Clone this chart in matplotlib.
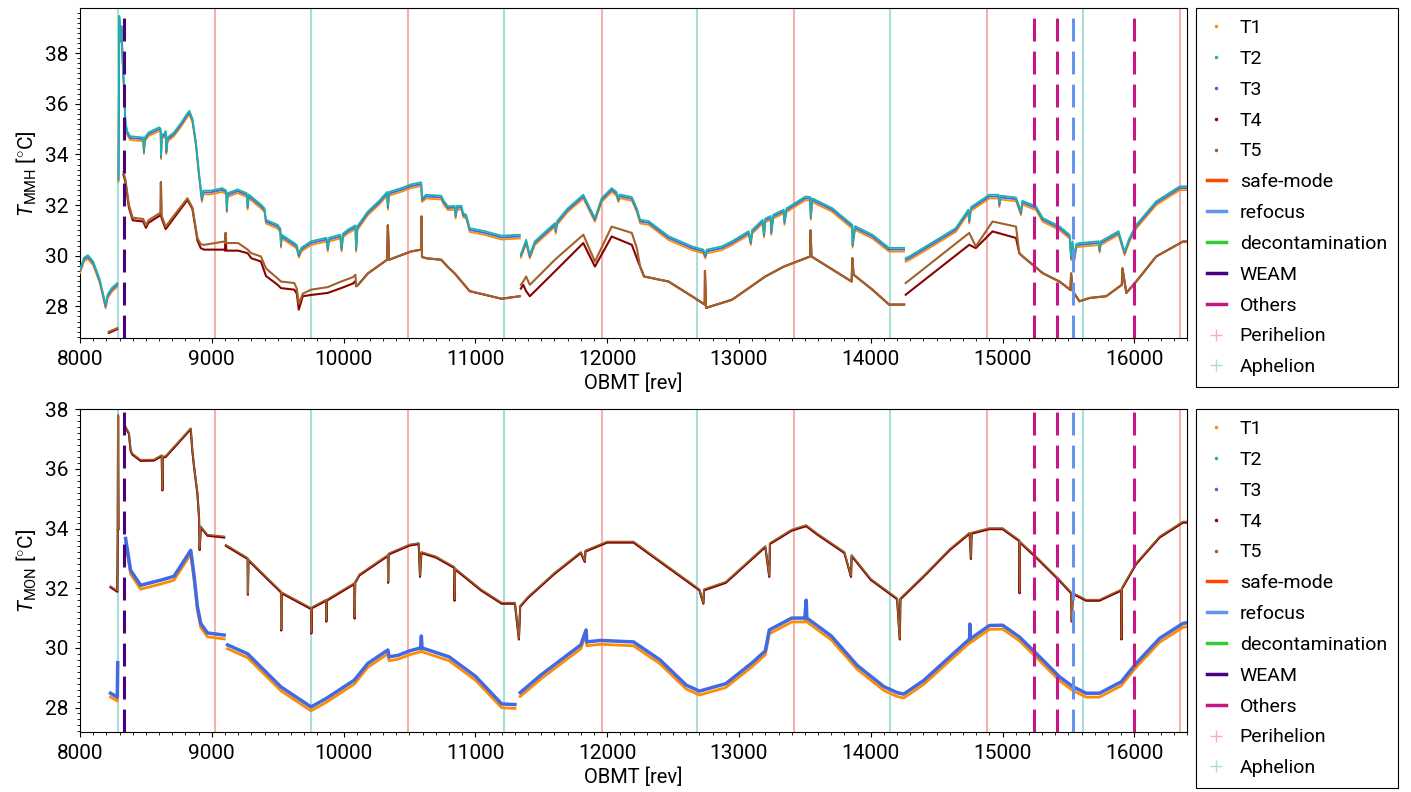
import numpy as np
import matplotlib
matplotlib.use('Agg')
from matplotlib import pyplot as plt
from matplotlib.lines import Line2D
from matplotlib.ticker import MultipleLocator

plt.rcParams['font.family'] = ['Roboto', 'DejaVu Sans']
plt.rcParams['mathtext.fontset'] = 'custom'
plt.rcParams['mathtext.rm'] = 'Roboto'
plt.rcParams['mathtext.it'] = 'Roboto:italic'

nan = np.nan

# events (OBMT rev)
perihelion = [9025, 10490, 11962, 13419, 14884, 16349]
aphelion = [8288, 9753, 11218, 12683, 14148, 15613]
safe_mode = []
refocus = [15537]
decontamination = []
weam = [8334]
others = [15241, 15415, 15999]

# MMH, upper trace group (T1, T2, T3): x, T3
mmh_hi = np.array([
    (8000, 29.4), (8030, 29.85), (8060, 29.95), (8100, 29.7), (8150, 29.0), (8194, 28.0),
    (8210, 28.4), (8240, 28.65), (8283, 28.85), (8287, nan),
    (8292, 33.0), (8298, 39.4), (8305, 38.5), (8315, 39.0), (8325, 37.5), (8335, 36.5),
    (8345, 35.2), (8359, 34.85), (8380, 34.65), (8480, 34.6), (8485, 34.1), (8492, 34.6),
    (8520, 34.8), (8600, 35.0), (8612, 34.95), (8615, 33.9), (8620, 34.7), (8640, 34.75),
    (8650, 34.85), (8655, 34.1), (8665, 34.6), (8713, 34.8), (8770, 35.2), (8815, 35.56),
    (8830, 35.65), (8853, 35.35), (8880, 34.4), (8903, 33.2), (8916, 32.6), (8925, 32.2),
    (8935, 32.5), (8990, 32.5), (9080, 32.6), (9110, 32.5), (9114, 31.8), (9120, 32.4),
    (9196, 32.55), (9265, 32.4), (9272, 31.9), (9280, 32.35), (9373, 31.95), (9400, 31.8),
    (9411, 31.35), (9500, 31.15), (9520, 31.0), (9525, 30.4), (9530, 30.76), (9626, 30.43),
    (9645, 30.35), (9660, 30.0), (9680, 30.25), (9753, 30.5), (9870, 30.64), (9880, 30.25),
    (9890, 30.64), (9975, 30.76), (9985, 30.24), (9995, 30.8), (10032, 30.96), (10090, 31.13),
    (10095, 30.24), (10105, 31.1), (10184, 31.68), (10270, 32.1), (10330, 32.45), (10336, 31.9),
    (10345, 32.45), (10437, 32.6), (10513, 32.75), (10589, 32.83), (10595, 32.2), (10627, 32.34),
    (10741, 32.3), (10760, 32.1), (10792, 31.88), (10843, 31.9), (10850, 31.55), (10860, 31.9),
    (10895, 31.9), (10907, 31.6), (10930, 31.55), (10957, 31.02), (11071, 30.9), (11198, 30.72),
    (11337, 30.76), (11340, nan),
    (11345, 30.0), (11363, 30.24), (11385, 30.56), (11413, 29.97), (11451, 30.5), (11603, 31.22),
    (11610, 30.95), (11620, 31.3), (11700, 31.8), (11819, 32.34), (11870, 31.8), (11907, 31.42),
    (11958, 32.2), (12034, 32.6), (12070, 32.45), (12085, 32.2), (12095, 32.35), (12187, 32.25),
    (12225, 31.8), (12250, 31.35), (12314, 31.3), (12466, 30.7), (12643, 30.3), (12730, 30.17),
    (12744, 29.97), (12755, 30.17), (12870, 30.3), (12947, 30.5), (13074, 30.9), (13090, 30.5),
    (13100, 30.95), (13180, 31.35), (13190, 30.8), (13200, 31.4), (13240, 31.5), (13245, 30.9),
    (13260, 31.55), (13340, 31.75), (13345, 31.3), (13360, 31.8), (13505, 32.27), (13540, 32.25),
    (13545, 31.5), (13555, 32.2), (13708, 31.81), (13860, 31.15), (13862, 30.4), (13880, 31.1),
    (14012, 30.76), (14139, 30.24), (14253, 30.24), (14258, nan),
    (14265, 29.84), (14291, 29.9), (14450, 30.4), (14645, 31.02), (14740, 31.75), (14747, 31.35),
    (14760, 31.85), (14899, 32.34), (14970, 32.34), (14975, 32.0), (14985, 32.3), (15102, 32.23),
    (15140, 31.68), (15150, 32.1), (15254, 31.88), (15305, 31.42), (15432, 31.09), (15510, 30.75),
    (15520, 29.9), (15530, 30.5), (15545, 29.9), (15560, 30.4), (15584, 30.43), (15730, 30.5),
    (15736, 30.2), (15745, 30.5), (15880, 30.9), (15926, 30.1), (15960, 30.6), (16014, 31.15),
    (16166, 32.08), (16344, 32.67), (16420, 32.67),
])
# spacing of each sensor from the T3 trace in the upper MMH group
mmh_hi_sep = {'T1': -0.08, 'T2': 0.07, 'T3': 0.0}

# MMH, lower trace group: x, T4, T5
mmh_lo = np.array([
    (8219, 26.95, 27.0), (8283, 27.1, 27.14), (8287, nan, nan),
    (8330, 33.2, 33.3), (8345, 32.9, 33.0), (8371, 31.9, 32.0), (8400, 31.4, 31.5),
    (8480, 31.35, 31.45), (8500, 31.1, 31.2), (8520, 31.3, 31.4), (8580, 31.5, 31.6),
    (8612, 31.6, 31.7), (8614, 32.9, 32.9), (8618, 31.5, 31.6), (8650, 31.05, 31.15),
    (8700, 31.4, 31.5), (8815, 32.2, 32.27), (8853, 31.85, 31.9), (8891, 30.6, 30.7),
    (8916, 30.3, 30.45), (8942, 30.24, 30.43), (9094, 30.24, 30.56), (9100, 30.2, 30.5),
    (9105, 30.9, 30.9), (9110, 30.2, 30.5), (9200, 30.2, 30.5), (9272, 30.1, 30.24),
    (9300, 29.9, 30.1), (9373, 29.77, 29.97), (9411, 29.2, 29.5), (9500, 28.85, 29.1),
    (9525, 28.72, 28.98), (9626, 28.66, 28.92), (9645, 28.5, 28.7), (9660, 27.87, 28.1),
    (9690, 28.4, 28.5), (9753, 28.45, 28.66), (9880, 28.53, 28.76), (9981, 28.72, 28.98),
    (10070, 28.9, 29.15), (10090, 29.0, 29.25), (10095, 28.79, 28.8), (10110, 28.85, 28.85),
    (10184, 29.3, 29.3), (10330, 29.84, 29.84), (10336, 31.2, 31.2), (10345, 29.84, 29.84),
    (10513, 30.17, 30.17), (10589, 30.24, 30.24), (10591, 31.55, 31.55), (10595, 29.95, 29.95),
    (10627, 29.9, 29.9), (10741, 29.84, 29.84), (10792, 29.55, 29.55), (10843, 29.3, 29.3),
    (10957, 28.6, 28.6), (11071, 28.46, 28.46), (11198, 28.3, 28.3), (11337, 28.4, 28.4),
    (11340, nan, nan),
    (11345, 28.7, 28.85), (11363, 28.85, 28.98), (11385, 28.6, 29.18), (11413, 28.4, 28.85),
    (11603, 29.38, 29.84), (11819, 30.5, 30.83), (11907, 29.57, 29.77), (12034, 30.76, 31.15),
    (12187, 30.43, 30.9), (12225, 29.9, 30.3), (12250, 29.57, 29.57), (12280, 29.18, 29.18),
    (12466, 28.98, 28.98), (12643, 28.4, 28.4), (12740, 28.07, 28.07), (12742, 29.4, 29.4),
    (12750, 27.94, 27.94), (12947, 28.26, 28.26), (13074, 28.72, 28.72), (13200, 29.18, 29.18),
    (13340, 29.57, 29.57), (13540, 29.97, 29.97), (13543, 31.0, 31.0), (13550, 29.97, 29.97),
    (13855, 28.98, 28.98), (13860, 29.9, 29.9), (13870, 29.25, 29.25), (14012, 28.66, 28.66),
    (14139, 28.07, 28.07), (14253, 28.07, 28.07), (14258, nan, nan),
    (14265, 28.46, 28.92), (14747, 30.43, 30.9), (14797, 30.3, 30.37), (14924, 30.96, 31.35),
    (15102, 30.7, 31.15), (15127, 30.1, 30.1), (15153, 29.97, 29.97), (15305, 29.31, 29.31),
    (15432, 28.98, 28.98), (15515, 28.65, 28.65), (15520, 29.3, 29.3), (15533, 28.59, 28.59),
    (15584, 28.2, 28.2), (15660, 28.33, 28.33), (15786, 28.4, 28.4), (15905, 28.85, 28.85),
    (15910, 29.5, 29.5), (15939, 28.53, 28.53), (16014, 28.98, 28.98), (16166, 29.97, 29.97),
    (16369, 30.56, 30.56), (16420, 30.56, 30.56),
])

# MON, upper trace group (T2, T4, T5): x, T4
mon_hi = np.array([
    (8232, 32.05), (8283, 31.9), (8286, 33.5), (8289, 37.8), (8292, 34.0), (8296, nan),
    (8346, 37.4), (8371, 37.2), (8384, 36.63), (8397, 36.5), (8460, 36.29), (8561, 36.3),
    (8620, 36.45), (8625, 35.3), (8630, 36.4), (8650, 36.42), (8840, 37.35), (8853, 36.6),
    (8866, 36.07), (8891, 35.18), (8903, 34.4), (8908, 33.3), (8916, 34.06), (8967, 33.78),
    (9094, 33.72), (9100, nan), (9107, 33.44), (9272, 33.0), (9274, 31.8), (9278, 32.95),
    (9525, 31.88), (9527, 30.6), (9530, 31.85), (9753, 31.32), (9755, 30.5), (9760, 31.35),
    (9867, 31.6), (9869, 30.9), (9872, 31.6), (10082, 32.16), (10084, 31.0), (10088, 32.2),
    (10120, 32.45), (10336, 33.1), (10338, 32.2), (10342, 33.15), (10500, 33.45), (10570, 33.5),
    (10580, 32.4), (10590, 33.2), (10700, 33.05), (10840, 32.7), (10842, 31.6), (10846, 32.65),
    (11045, 31.94), (11200, 31.5), (11300, 31.5), (11330, 30.3), (11340, 31.4), (11400, 31.7),
    (11600, 32.5), (11800, 33.2), (11830, 32.9), (11835, 33.25), (12000, 33.55), (12200, 33.55),
    (12340, 33.1), (12600, 32.27), (12700, 31.95), (12730, 31.5), (12735, 31.95), (12900, 32.2),
    (13000, 32.6), (13200, 33.4), (13230, 32.4), (13235, 33.5), (13400, 33.95), (13510, 34.1),
    (13600, 33.8), (13800, 33.2), (13850, 32.4), (13855, 33.1), (14000, 32.3), (14200, 31.65),
    (14220, 30.3), (14225, 31.65), (14400, 32.4), (14600, 33.3), (14750, 33.85), (14760, 33.0),
    (14765, 33.85), (14900, 34.0), (15000, 34.0), (15127, 33.6), (15129, 31.85), (15132, 33.55),
    (15254, 33.05), (15432, 32.27), (15520, 31.85), (15525, 30.9), (15533, 31.83), (15634, 31.6),
    (15735, 31.6), (15900, 31.94), (15902, 30.3), (15906, 32.0), (16014, 32.83), (16192, 33.72),
    (16369, 34.22), (16420, 34.22),
])
mon_hi_sep = {'T2': 0.0, 'T4': -0.02, 'T5': 0.02}

# MON, lower trace group (T1, T3): x, T3
mon_lo = np.array([
    (8232, 28.48), (8283, 28.35), (8286, 29.5), (8290, nan),
    (8346, 33.67), (8384, 32.6), (8460, 32.1), (8612, 32.27), (8713, 32.4), (8840, 33.27),
    (8866, 32.4), (8891, 31.38), (8916, 30.82), (8967, 30.5), (9094, 30.43), (9100, nan),
    (9120, 30.1), (9272, 29.8), (9525, 28.69), (9753, 28.02), (9867, 28.3), (10082, 28.92),
    (10184, 29.48), (10336, 29.93), (10345, 29.7), (10413, 29.75), (10500, 29.9), (10585, 30.0),
    (10590, 30.4), (10595, 30.0), (10800, 29.7), (11000, 29.05), (11200, 28.12), (11300, 28.1),
    (11320, nan), (11340, 28.5), (11500, 29.1), (11800, 30.1), (11840, 30.6), (11845, 30.2),
    (11950, 30.25), (12200, 30.2), (12400, 29.6), (12600, 28.75), (12700, 28.55), (12900, 28.8),
    (13100, 29.5), (13200, 29.9), (13230, 30.6), (13400, 31.0), (13500, 31.0), (13510, 31.6),
    (13515, 31.0), (13700, 30.4), (13900, 29.4), (14100, 28.7), (14200, 28.5), (14250, 28.45),
    (14400, 28.9), (14600, 29.7), (14750, 30.3), (14752, 30.8), (14755, 30.3), (14900, 30.75),
    (15000, 30.76), (15127, 30.37), (15254, 29.82), (15432, 29.03), (15533, 28.7), (15634, 28.48),
    (15735, 28.48), (15900, 28.86), (16014, 29.48), (16192, 30.32), (16369, 30.82), (16420, 30.86),
])
mon_lo_sep = {'T1': -0.13, 'T3': 0.0}

colors = {'T1': 'darkorange', 'T2': 'lightseagreen', 'T3': 'royalblue',
          'T4': 'darkred', 'T5': '#a0622a'}
peri_color = '#f6b1ab'
aph_color = '#a9dfda'
event_colors = {'safe-mode': 'orangered', 'refocus': 'cornflowerblue',
                'decontamination': 'limegreen', 'WEAM': 'indigo',
                'Others': 'mediumvioletred'}


def draw_events(ax):
    for x in perihelion:
        ax.axvline(x, color=peri_color, lw=1.5, zorder=1)
    for x in aphelion:
        ax.axvline(x, color=aph_color, lw=1.5, zorder=1)
    for name, xs in [('safe-mode', safe_mode), ('refocus', refocus),
                     ('decontamination', decontamination), ('WEAM', weam),
                     ('Others', others)]:
        for x in xs:
            ax.axvline(x, color=event_colors[name], lw=2.2, dashes=(7.5, 3.3), zorder=5)


def style_axes(ax, ylabel, ylim):
    ax.set_xlim(8000, 16400)
    ax.set_ylim(*ylim)
    ax.xaxis.set_major_locator(MultipleLocator(1000))
    ax.xaxis.set_minor_locator(MultipleLocator(100))
    ax.yaxis.set_major_locator(MultipleLocator(2))
    ax.yaxis.set_minor_locator(MultipleLocator(0.2))
    ax.tick_params(labelsize=15, pad=5)
    ax.set_xlabel('OBMT [rev]', fontsize=14.5, labelpad=3)
    ax.set_ylabel(ylabel, fontsize=15)
    handles = [Line2D([], [], ls='', marker='.', ms=3, color=colors[k]) for k in colors]
    handles += [Line2D([], [], lw=2.5, color=c) for c in event_colors.values()]
    handles += [Line2D([], [], ls='', marker='+', ms=9, color=peri_color),
                Line2D([], [], ls='', marker='+', ms=9, color=aph_color)]
    labels = list(colors) + list(event_colors) + ['Perihelion', 'Aphelion']
    leg = ax.legend(handles, labels, loc='upper left', bbox_to_anchor=(1.008, 1.0),
                    borderaxespad=0, fancybox=False, edgecolor='black', framealpha=1,
                    fontsize=14, handlelength=1.0, handletextpad=0.7, labelspacing=0.66,
                    borderpad=0.55)
    leg.get_frame().set_linewidth(0.8)


fig = plt.figure(figsize=(14.11, 7.92), dpi=100)
ax1 = fig.add_axes([0.0567, 0.5729, 0.7846, 0.4166])
ax2 = fig.add_axes([0.0567, 0.0754, 0.7846, 0.4078])

# top: MMH
draw_events(ax1)
for k in ['T1', 'T3', 'T2']:
    ax1.plot(mmh_hi[:, 0], mmh_hi[:, 1] + mmh_hi_sep[k], color=colors[k], lw=1.3, zorder=3)
ax1.plot(mmh_lo[:, 0], mmh_lo[:, 1], color=colors['T4'], lw=1.5, zorder=3)
ax1.plot(mmh_lo[:, 0], mmh_lo[:, 2], color=colors['T5'], lw=1.5, zorder=3)
style_axes(ax1, r'$T_{\mathrm{MMH}}$ [$^{\circ}$C]', (26.74, 39.77))

# bottom: MON
draw_events(ax2)
ax2.plot(mon_lo[:, 0], mon_lo[:, 1] + mon_lo_sep['T1'], color=colors['T1'], lw=2.0, zorder=3)
ax2.plot(mon_hi[:, 0], mon_hi[:, 1] + mon_hi_sep['T2'], color=colors['T2'], lw=1.5, zorder=3)
ax2.plot(mon_lo[:, 0], mon_lo[:, 1] + mon_lo_sep['T3'], color=colors['T3'], lw=2.5, zorder=3)
ax2.plot(mon_hi[:, 0], mon_hi[:, 1] + mon_hi_sep['T4'], color=colors['T4'], lw=1.5, zorder=3)
ax2.plot(mon_hi[:, 0], mon_hi[:, 1] + mon_hi_sep['T5'], color=colors['T5'], lw=1.0, zorder=3)
style_axes(ax2, r'$T_{\mathrm{MON}}$ [$^{\circ}$C]', (27.17, 38.0))

fig.savefig('out.png', dpi=100)
